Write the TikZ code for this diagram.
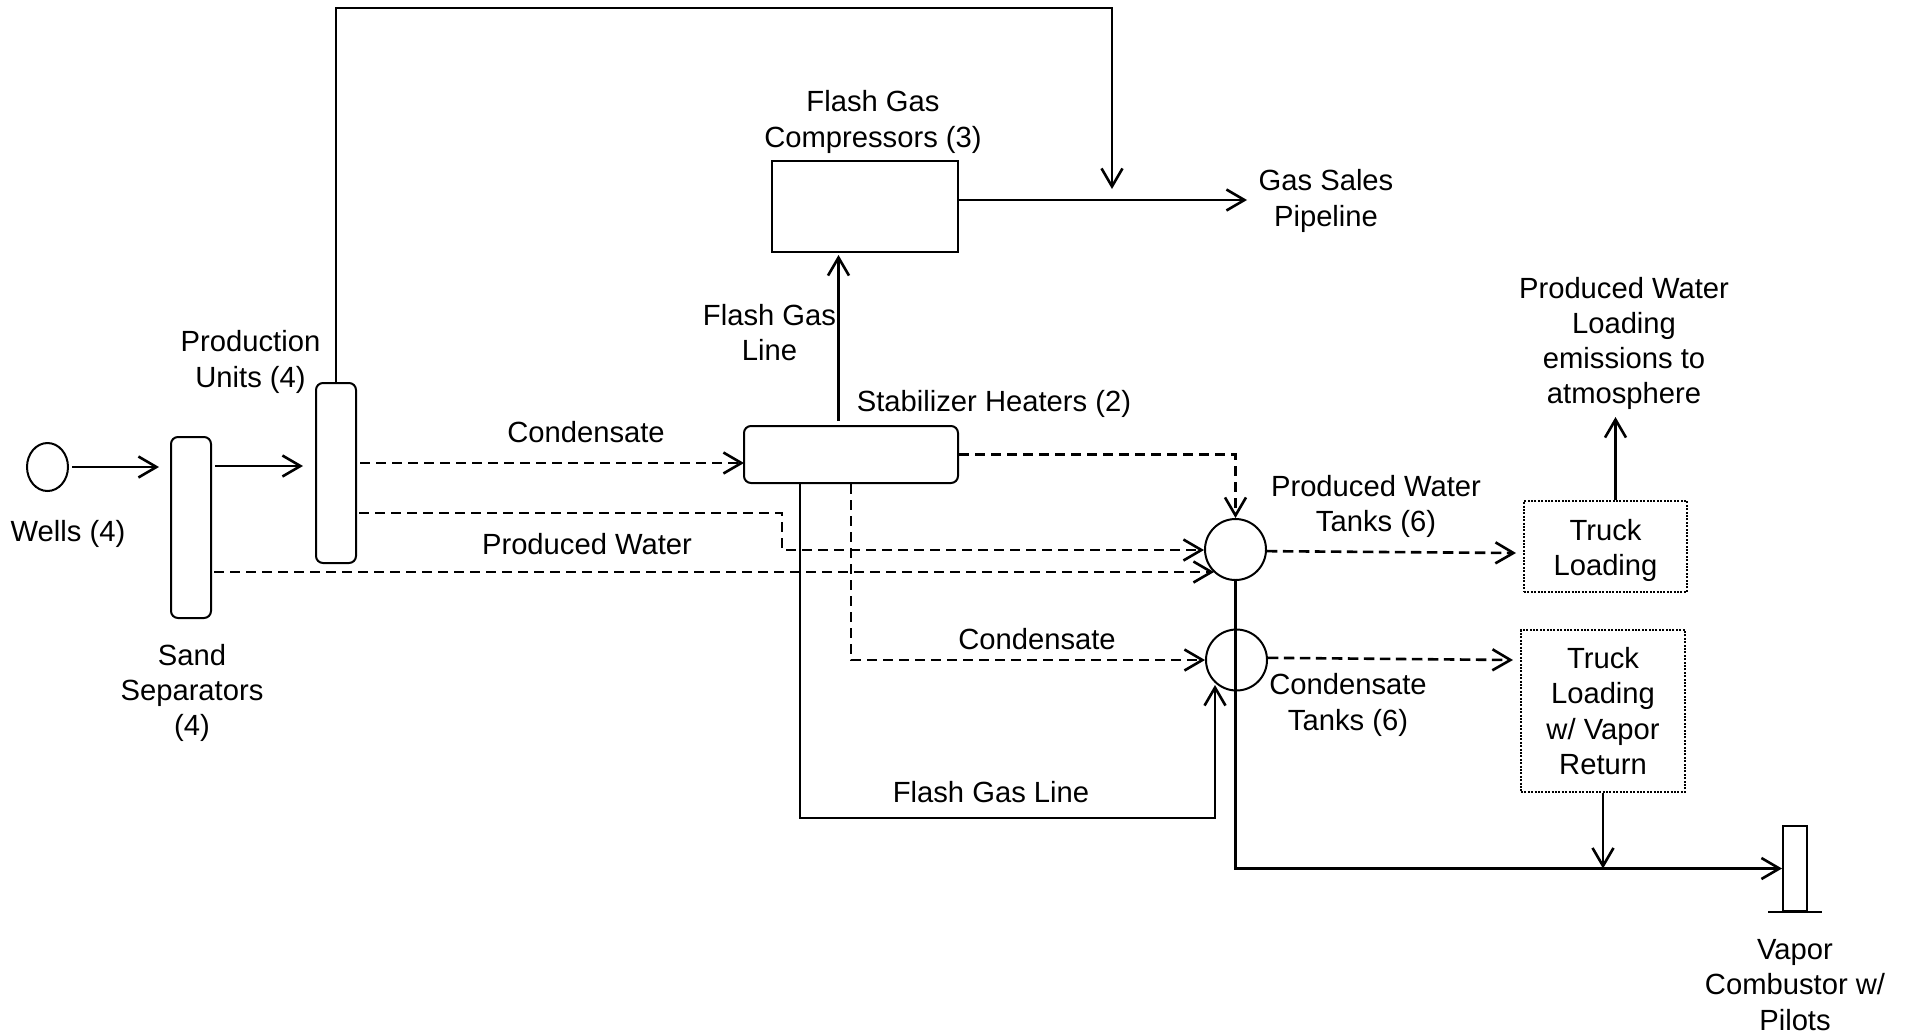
\documentclass[tikz,border=0pt]{standalone}
\usepackage{fontspec}
\setmainfont{Liberation Sans}
\usetikzlibrary{arrows.meta, shapes.geometric}

\tikzset{
  flow/.style={line width=1.3pt, -{Straight Barb[length=9pt, width=10.5pt]}},
  dflow/.style={flow, dash pattern=on 5.2pt off 2.8pt},
  vessel/.style={draw, line width=1pt, rounded corners=3.5pt, inner sep=0pt},
  tank/.style={draw, circle, line width=1pt, minimum size=30.5pt, inner sep=0pt},
  truckbox/.style={draw, line width=1pt, dash pattern=on 1pt off 0.7pt, inner sep=0pt},
  lbl/.style={align=center, inner sep=0pt},
}

\begin{document}
\begin{tikzpicture}[x=0.5pt, y=-0.5pt, font=\fontsize{14.6pt}{17.6pt}\selectfont]
\useasboundingbox (0,0) rectangle (1906,1035);

% equipment
\node[draw, ellipse, line width=1pt, minimum width=20.5pt, minimum height=24pt, inner sep=0pt] (well) at (47.5,467) {};
\node[vessel, minimum width=20pt, minimum height=90.5pt] (sep) at (191,527.5) {};
\node[vessel, minimum width=20pt, minimum height=90pt] (prod) at (336,473) {};
\node[draw, line width=1pt, minimum width=93pt, minimum height=45.5pt, inner sep=0pt] (comp) at (865,206.5) {};
\node[vessel, minimum width=107pt, minimum height=28.5pt] (stab) at (851,454.5) {};
\node[tank] (pwtank) at (1235.5,549.5) {};
\node[tank] (cdtank) at (1236.5,660) {};
\node[draw, line width=1pt, minimum width=12pt, minimum height=42.5pt, inner sep=0pt] (stack) at (1795,868.5) {};
\node[truckbox, minimum width=81.5pt, minimum height=45.5pt] (truckpw) at (1605.5,546.5) {};
\node[truckbox, minimum width=82pt, minimum height=81pt] (truckcd) at (1603,711) {};
\draw[line width=1.3pt] (stack.south) ++(-27,0) -- ++(54,0);

% labels
\node[lbl] (l-well) at (68,534) {Wells (4)};
\node[lbl] (l-sep) at (192,693) {Sand\\Separators\\(4)};
\node[lbl] (l-prod) at (250.5,362) {Production\\Units (4)};
\node[lbl] (l-comp) at (873,122) {Flash Gas\\Compressors (3)};
\node[lbl] (l-sales) at (1326,201) {Gas Sales\\Pipeline};
\node[lbl] (l-atm) at (1624,343.5) {Produced Water\\Loading\\emissions to\\atmosphere};
\node[lbl] (l-fgup) at (769.5,332.5) {Flash Gas\\Line};
\node[lbl] (l-stab) at (994,403.5) {Stabilizer Heaters (2)};
\node[lbl] (l-cond1) at (586,432) {Condensate};
\node[lbl] (l-water) at (587,544) {Produced Water};
\node[lbl] (l-pwtank) at (1376,506.5) {Produced Water\\Tanks (6)};
\node[lbl] (l-cond2) at (1037,639) {Condensate};
\node[lbl] (l-cdtank) at (1348,705) {Condensate\\Tanks (6)};
\node[lbl] (l-fgline) at (991,792) {Flash Gas Line};
\node[lbl] (l-stack) at (1795,985) {Vapor\\Combustor w/\\Pilots};
\node[lbl] (l-truckpw) at (1605.5,550.5) {Truck\\Loading};
\node[lbl] (l-truckcd) at (1603,711) {Truck\\Loading\\w/ Vapor\\Return};

% connector ends
\coordinate (sep-in) at (159,467);
\coordinate (prod-in) at (303,466);
\coordinate (top-turn) at (1112,8);
\coordinate (gas-join) at (1112,189);
\coordinate (gas-out) at (1247,200);
\coordinate (fg-up) at (838.5,255);
\coordinate (stab-in) at (744,463);
\coordinate (pw-a) at (782,513);
\coordinate (pw-in1) at (1204,550);
\coordinate (pw-in2) at (1214,572);
\coordinate (cd-a) at (851,660);
\coordinate (fg-a) at (800,818);
\coordinate (fg-b) at (1215,818);
\coordinate (fg-tip) at (1215,685);
\coordinate (pw-out) at (1516,553);
\coordinate (cd-out) at (1513,660);
\coordinate (pw-vent) at (1615.5,417);

% solid lines
\draw[flow, shorten <=1.5pt] (well.east) -- (sep-in);
\draw[flow, shorten <=1.5pt] (prod-in -| sep.east) -- (prod-in);
\draw[flow] (prod.north) |- (top-turn) -- (gas-join);
\draw[flow] (gas-out -| comp.east) -- (gas-out);
\draw[flow, shorten <=2pt] (fg-up |- stab.north) -- (fg-up);
\draw[flow] (fg-a |- stab.south) -- (fg-a) -- (fg-b) -- (fg-tip);
\draw[flow] (pwtank.south) |- (stack.west);
\draw[flow] (truckcd.south) -- (truckcd.south |- stack.west);
\draw[flow] (pw-vent |- truckpw.north) -- (pw-vent);

% dashed lines
\draw[dflow, shorten <=1.5pt] (stab-in -| prod.east) -- (stab-in);
\draw[dflow, shorten <=1pt] (pw-a -| prod.east) -- (pw-a) |- (pw-in1);
\draw[dflow, shorten <=1pt] (pw-in2 -| sep.east) -- (pw-in2);
\draw[dflow] (stab.east) -| (pwtank.north);
\draw[dflow] (cd-a |- stab.south) -- (cd-a) -- (cdtank.west);
\draw[dflow] (pwtank.-3) -- (pw-out);
\draw[dflow] (cdtank.4) -- (cd-out);

\end{tikzpicture}
\end{document}
